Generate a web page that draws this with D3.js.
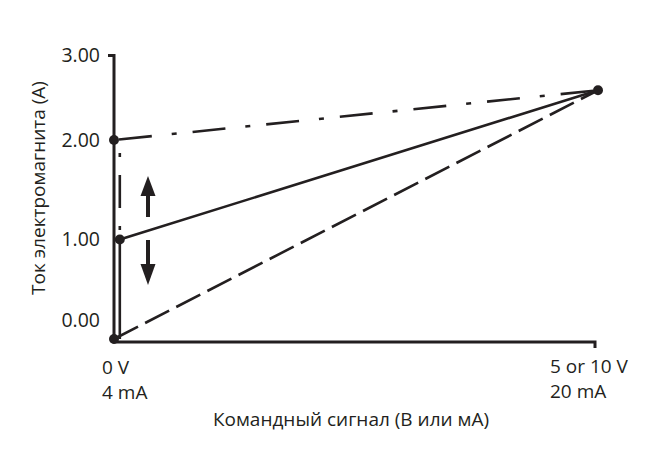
<!DOCTYPE html>
<html lang="ru">
<head>
	<meta charset="UTF-8">
	<title>solenoid current</title>
	<script src="https://d3js.org/d3.v7.min.js"></script>
	<style>
		body {
			margin: 0;
			background: #fff;
		}
		svg {
			display: block;
		}
		text {
			font-family: "Open Sans", sans-serif;
			font-size: 19px;
			fill: #231f20;
		}
		.ytick {
			font-size: 19.5px;
		}
		.axis-line {
			fill: none;
			stroke: #231f20;
			stroke-width: 3;
		}
		.series {
			fill: none;
			stroke: #231f20;
			stroke-width: 2.6;
		}
	</style>
</head>
<body>
<div id="viz"></div>
<script>
	// command signal in % of full range, current in A
	var yTickValues = [0, 1, 2, 2.85];
	var yTickLabels = ['0.00', '1.00', '2.00', '3.00'];
	var xLabelsLeft = ['0 V', '4 mA'];
	var xLabelsRight = ['5 or 10 V', '20 mA'];

	var solidLine = [[1.2, 0], [1.2, 1], [100, 2.5]];
	var dashedLine = [[0, 0], [100, 2.5]];
	var dashDotLine = [[0, 2], [100, 2.5]];
	var dashDotDrop = [[1.2, 2], [1.2, 1]];
	var points = [[0, 0], [1.2, 1], [0, 2], [100, 2.5]];

	var width = 647, height = 458;

	var x = d3.scaleLinear().domain([0, 100]).range([114, 598]);
	var y = d3.scaleLinear().domain([0, 2]).range([339, 140]);

	var svg = d3.select('#viz').append('svg')
		.attr('width', width)
		.attr('height', height);

	var line = d3.line()
		.x(function (d) { return x(d[0]); })
		.y(function (d) { return y(d[1]); });

	var yTop = y(yTickValues[3]);
	var yBase = y(0) + 3;

	// axes
	svg.append('path')
		.attr('class', 'axis-line')
		.attr('d', 'M' + (x(0) - 6) + ',' + yTop + 'H' + x(0) + 'V' + yBase + 'H' + (x(100) - 3) + 'V' + (yBase + 6));

	svg.selectAll('.ytick')
		.data(yTickValues)
		.enter().append('text')
		.attr('class', 'ytick')
		.attr('x', x(0) - 14)
		.attr('y', function (d, i) { return y(d) + (i === 0 ? -19 : 0); })
		.attr('dy', '0.35em')
		.attr('text-anchor', 'end')
		.text(function (d, i) { return yTickLabels[i]; });

	// series
	svg.append('path').datum(dashDotDrop)
		.attr('class', 'series')
		.attr('stroke-dasharray', '33,18,4,18')
		.attr('stroke-dashoffset', 38)
		.attr('d', line);

	svg.append('path').datum(dashedLine)
		.attr('class', 'series')
		.attr('stroke-dasharray', '27,8')
		.attr('d', line);

	svg.append('path').datum(dashDotLine)
		.attr('class', 'series')
		.attr('stroke-dasharray', '33,20,5,16')
		.attr('stroke-dashoffset', -5)
		.attr('d', line);

	svg.append('path').datum(solidLine)
		.attr('class', 'series')
		.attr('d', line);

	svg.selectAll('.pt')
		.data(points)
		.enter().append('circle')
		.attr('class', 'pt')
		.attr('cx', function (d) { return x(d[0]); })
		.attr('cy', function (d) { return y(d[1]); })
		.attr('r', 5)
		.style('fill', '#231f20');

	// up / down arrows
	var ax = 148;
	function arrow(tipY, baseY, endY) {
		svg.append('line')
			.attr('x1', ax).attr('x2', ax)
			.attr('y1', baseY).attr('y2', endY)
			.style('stroke', '#231f20')
			.style('stroke-width', 4);
		svg.append('path')
			.attr('d', 'M' + ax + ',' + tipY + 'L' + (ax + 7.5) + ',' + baseY + 'L' + (ax - 7.5) + ',' + baseY + 'Z')
			.style('fill', '#231f20');
	}
	arrow(176, 196, 217);
	arrow(285, 264, 240);

	// x labels
	svg.selectAll('.xl')
		.data(xLabelsLeft)
		.enter().append('text')
		.attr('x', 102)
		.attr('y', function (d, i) { return 374 + i * 25; })
		.text(function (d) { return d; });

	svg.selectAll('.xr')
		.data(xLabelsRight)
		.enter().append('text')
		.attr('x', 550)
		.attr('y', function (d, i) { return 373 + i * 25; })
		.text(function (d) { return d; });

	svg.append('text')
		.attr('x', 351)
		.attr('y', 426)
		.attr('text-anchor', 'middle')
		.text('Командный сигнал (В или мА)');

	svg.append('text')
		.attr('transform', 'translate(45,188) rotate(-90)')
		.attr('text-anchor', 'middle')
		.text('Ток электромагнита (А)');
</script>
</body>
</html>
